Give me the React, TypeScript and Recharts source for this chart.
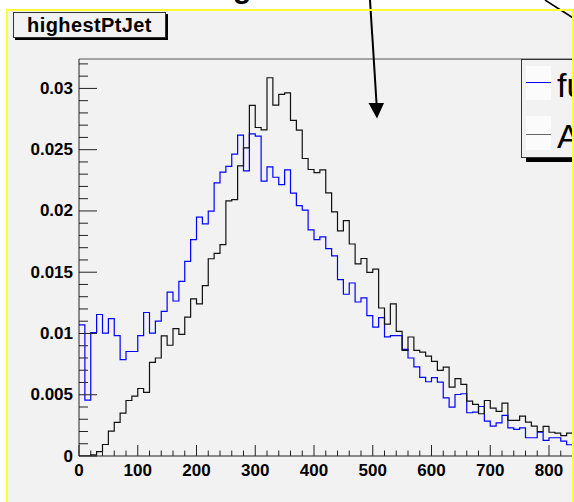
import React from "react";
import { LineChart, Line, XAxis, YAxis, ReferenceLine, Legend } from "recharts";

// bin contents, 10-unit bins starting at 0
const fullSim = [
  0.0107, 0.00456, 0.01008, 0.01155, 0.01002, 0.01121, 0.00983, 0.00786, 0.00853, 0.00853,
  0.00983, 0.01171, 0.01002, 0.01101, 0.0118, 0.01337, 0.01265, 0.01425, 0.01588, 0.01766,
  0.01949, 0.01894, 0.01998, 0.02229, 0.02316, 0.02363, 0.02463, 0.02618, 0.02327, 0.02629,
  0.0261, 0.02243, 0.0236, 0.02275, 0.02215, 0.02335, 0.02145, 0.02044, 0.02006, 0.01845,
  0.01766, 0.01788, 0.01693, 0.01634, 0.0144, 0.0132, 0.01412, 0.01257, 0.0129, 0.01145,
  0.01052, 0.01129, 0.00973, 0.00983, 0.00983, 0.00871, 0.008, 0.00728, 0.00641, 0.00606,
  0.00639, 0.00603, 0.00475, 0.00399, 0.00502, 0.00508, 0.00353, 0.00358, 0.00404, 0.00284,
  0.00244, 0.00271, 0.00331, 0.0023, 0.00217, 0.0023, 0.00149, 0.00149, 0.00194, 0.00127,
  0.00149, 0.00149, 0.00121, 0.00092, 0.0009,
];

const atlFast = [
  0, 0, 0.0001, 0.00035, 0.00094, 0.00203, 0.00274, 0.0035, 0.00453, 0.00489,
  0.00551, 0.00519, 0.00764, 0.008, 0.00981, 0.00904, 0.0104, 0.00993, 0.01134, 0.01283,
  0.01242, 0.0139, 0.0161, 0.01654, 0.01725, 0.02082, 0.02093, 0.02368, 0.02515, 0.02861,
  0.02681, 0.02662, 0.03087, 0.02864, 0.02951, 0.02964, 0.02739, 0.02659, 0.02428, 0.02338,
  0.02312, 0.02335, 0.02147, 0.01992, 0.01837, 0.01921, 0.0173, 0.01568, 0.01612, 0.01498,
  0.01525, 0.01208, 0.01077, 0.01241, 0.01017, 0.00862, 0.00971, 0.00862, 0.00847, 0.00815,
  0.00772, 0.00699, 0.00726, 0.00562, 0.00631, 0.00584, 0.00448, 0.00421, 0.00345, 0.00453,
  0.0039, 0.00364, 0.00431, 0.0029, 0.0029, 0.00325, 0.00276, 0.00244, 0.002, 0.00241,
  0.00194, 0.00186, 0.00167, 0.00186, 0.0019,
];

const seriesNames = ["full sim", "Atlfast"];
const xMajorValues = [0, 100, 200, 300, 400, 500, 600, 700, 800];
const xMajorLabels = ["0", "100", "200", "300", "400", "500", "600", "700", "800"];
const yMajorValues = [0, 0.005, 0.01, 0.015, 0.02, 0.025, 0.03];
const yMajorLabels = ["0", "0.005", "0.01", "0.015", "0.02", "0.025", "0.03"];

const BIN_WIDTH = 10;
const X_MAX = 1000;
const Y_MAX = 0.0324;

const data = fullSim.map((v, i) => ({ x: i * BIN_WIDTH, full: v, fast: atlFast[i] }));
data.push({
  x: fullSim.length * BIN_WIDTH,
  full: fullSim[fullSim.length - 1],
  fast: atlFast[atlFast.length - 1],
});

// minor ticks every 20 on x (only the visible part), every 0.001 on y
const xTicks = Array.from({ length: 43 }, (_, i) => i * 20);
const yTicks = Array.from({ length: 33 }, (_, i) => i / 1000);

const FONT = '"Liberation Sans", Arial, Helvetica, sans-serif';
const BG = "#f2f2f2";
const AXIS = "#222";

const YTick = (props: any) => {
  const { x, y, payload } = props;
  const idx = yMajorValues.findIndex((m) => Math.abs(m - payload.value) < 1e-9);
  const major = idx >= 0;
  return (
    <g>
      <line x1={x} x2={x + (major ? 18 : 9)} y1={y} y2={y} stroke={AXIS} />
      {major && (
        <text
          x={x - 6}
          y={y}
          textAnchor="end"
          dominantBaseline="central"
          fontFamily={FONT}
          fontWeight="bold"
          fontSize={17}
          fill="#000"
        >
          {yMajorLabels[idx]}
        </text>
      )}
    </g>
  );
};

const XTick = (props: any) => {
  const { x, y, payload } = props;
  const idx = xMajorValues.indexOf(payload.value);
  const major = idx >= 0;
  return (
    <g>
      <line x1={x} x2={x} y1={y} y2={y - (major ? 11 : 5.5)} stroke={AXIS} />
      {major && (
        <text
          x={x}
          y={y + 20}
          textAnchor="middle"
          fontFamily={FONT}
          fontWeight="bold"
          fontSize={17}
          fill="#000"
        >
          {xMajorLabels[idx]}
        </text>
      )}
    </g>
  );
};

const LegendBox = ({ payload }: any) => {
  const items = [...(payload || [])].sort(
    (a: any, b: any) => seriesNames.indexOf(a.value) - seriesNames.indexOf(b.value)
  );
  return (
    <div
      style={{
        position: "relative",
        width: 200,
        height: 99,
        boxSizing: "border-box",
        background: BG,
        border: "1px solid #333",
        boxShadow: "5px 4px 0 #000",
        fontFamily: FONT,
      }}
    >
      {items.map((p: any, i: number) => (
        <React.Fragment key={p.value}>
          <div
            style={{
              position: "absolute",
              left: 4,
              top: 6 + i * 50,
              width: 25,
              height: 34,
              background: "#fbfbfb",
            }}
          >
            <div
              style={{
                position: "absolute",
                left: 0,
                right: 0,
                top: 16 + i * 2,
                height: 1,
                background: i === 0 ? p.color : "#666",
              }}
            />
          </div>
          <div
            style={{
              position: "absolute",
              left: 35,
              top: 8 + i * 51,
              fontSize: 34,
              lineHeight: "34px",
              whiteSpace: "nowrap",
              color: "#000",
            }}
          >
            {p.value}
          </div>
        </React.Fragment>
      ))}
    </div>
  );
};

export default function App() {
  return (
    <div
      style={{
        position: "absolute",
        left: 0,
        top: 0,
        width: 574,
        height: 502,
        overflow: "hidden",
        background: "#fff",
      }}
    >
      {/* pad */}
      <div
        style={{ position: "absolute", left: 6, top: 9, width: 568, height: 493, background: BG }}
      />

      <div style={{ position: "absolute", left: 0, top: 0 }}>
        <LineChart
          width={700}
          height={502}
          data={data}
          margin={{ top: 59, right: 33.5, bottom: 0, left: 0 }}
        >
          <XAxis
            dataKey="x"
            type="number"
            domain={[0, X_MAX]}
            ticks={xTicks}
            interval={0}
            height={46}
            tickSize={0}
            tickMargin={0}
            tickLine={false}
            axisLine={{ stroke: AXIS }}
            tick={<XTick />}
          />
          <YAxis
            type="number"
            domain={[0, Y_MAX]}
            ticks={yTicks}
            interval={0}
            width={79}
            tickSize={0}
            tickMargin={0}
            tickLine={false}
            axisLine={{ stroke: AXIS }}
            tick={<YTick />}
            allowDataOverflow
          />
          <ReferenceLine y={Y_MAX} stroke="#555" />
          <Legend
            layout="vertical"
            align="center"
            verticalAlign="middle"
            content={<LegendBox />}
            wrapperStyle={{ left: 521, top: 59, width: 200, height: 99 }}
          />
          <Line
            name={seriesNames[0]}
            dataKey="full"
            type="stepAfter"
            stroke="#0000ff"
            strokeWidth={1.2}
            dot={false}
            isAnimationActive={false}
          />
          <Line
            name={seriesNames[1]}
            dataKey="fast"
            type="stepAfter"
            stroke="#111"
            strokeWidth={1.2}
            dot={false}
            isAnimationActive={false}
          />
        </LineChart>
      </div>

      {/* title box */}
      <div
        style={{
          position: "absolute",
          left: 13,
          top: 12,
          width: 153,
          height: 26,
          boxSizing: "border-box",
          border: "1px solid #333",
          boxShadow: "2px 2px 0 #000",
          background: BG,
          fontFamily: FONT,
          fontWeight: "bold",
          fontSize: 20,
          lineHeight: "24px",
          textAlign: "center",
          color: "#000",
          letterSpacing: 0.4,
        }}
      >
        highestPtJet
      </div>

      {/* annotation arrows and pad border */}
      <svg
        width={574}
        height={502}
        style={{ position: "absolute", left: 0, top: 0, pointerEvents: "none" }}
      >
        <text x={233} y={-2} fontFamily={FONT} fontWeight="bold" fontSize={30} fill="#000">
          g
        </text>
        <line x1={370} y1={0} x2={376.6} y2={104} stroke="#000" strokeWidth={2} />
        <polygon points="368.5,103 384,103 377,118.5" fill="#000" />
        <line x1={545} y1={0} x2={574} y2={18.5} stroke="#000" strokeWidth={1.5} />
        <rect x={6} y={9} width={568} height={2} fill="#ffff33" />
        <rect x={6} y={9} width={2} height={493} fill="#ffff33" />
        <rect x={572} y={9} width={2} height={493} fill="#ffff33" />
      </svg>
    </div>
  );
}
